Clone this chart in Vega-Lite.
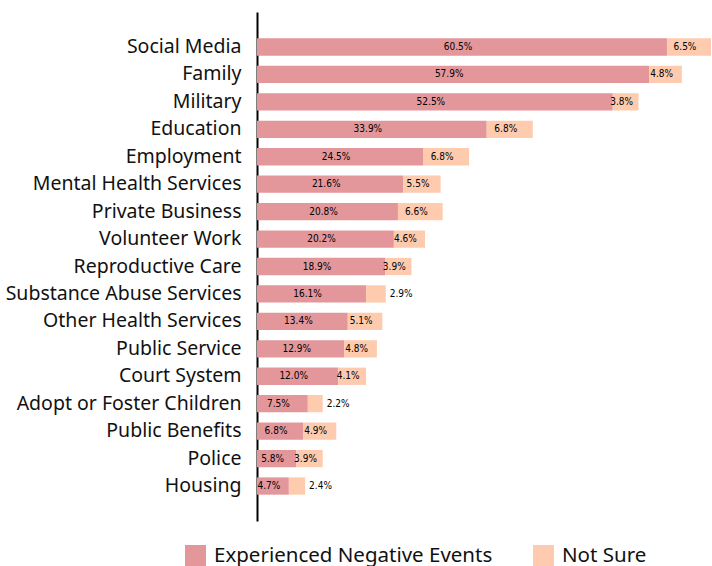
{
  "$schema": "https://vega.github.io/schema/vega-lite/v6.json",
  "autosize": "none",
  "width": 454,
  "height": 509,
  "padding": {"left": 257, "top": 12, "right": 1, "bottom": 45},
  "background": "white",
  "config": {"view": {"stroke": null}, "font": "Noto Sans"},
  "data": {"values": [
    {"category": "Social Media", "type": "Experienced Negative Events", "ord": 1, "value": 0.605},
    {"category": "Social Media", "type": "Not Sure", "ord": 2, "value": 0.065},
    {"category": "Family", "type": "Experienced Negative Events", "ord": 1, "value": 0.579},
    {"category": "Family", "type": "Not Sure", "ord": 2, "value": 0.048},
    {"category": "Military", "type": "Experienced Negative Events", "ord": 1, "value": 0.525},
    {"category": "Military", "type": "Not Sure", "ord": 2, "value": 0.038},
    {"category": "Education", "type": "Experienced Negative Events", "ord": 1, "value": 0.339},
    {"category": "Education", "type": "Not Sure", "ord": 2, "value": 0.068},
    {"category": "Employment", "type": "Experienced Negative Events", "ord": 1, "value": 0.245},
    {"category": "Employment", "type": "Not Sure", "ord": 2, "value": 0.068},
    {"category": "Mental Health Services", "type": "Experienced Negative Events", "ord": 1, "value": 0.216},
    {"category": "Mental Health Services", "type": "Not Sure", "ord": 2, "value": 0.055},
    {"category": "Private Business", "type": "Experienced Negative Events", "ord": 1, "value": 0.208},
    {"category": "Private Business", "type": "Not Sure", "ord": 2, "value": 0.066},
    {"category": "Volunteer Work", "type": "Experienced Negative Events", "ord": 1, "value": 0.202},
    {"category": "Volunteer Work", "type": "Not Sure", "ord": 2, "value": 0.046},
    {"category": "Reproductive Care", "type": "Experienced Negative Events", "ord": 1, "value": 0.189},
    {"category": "Reproductive Care", "type": "Not Sure", "ord": 2, "value": 0.039},
    {"category": "Substance Abuse Services", "type": "Experienced Negative Events", "ord": 1, "value": 0.161},
    {"category": "Substance Abuse Services", "type": "Not Sure", "ord": 2, "value": 0.029},
    {"category": "Other Health Services", "type": "Experienced Negative Events", "ord": 1, "value": 0.134},
    {"category": "Other Health Services", "type": "Not Sure", "ord": 2, "value": 0.051},
    {"category": "Public Service", "type": "Experienced Negative Events", "ord": 1, "value": 0.129},
    {"category": "Public Service", "type": "Not Sure", "ord": 2, "value": 0.048},
    {"category": "Court System", "type": "Experienced Negative Events", "ord": 1, "value": 0.120},
    {"category": "Court System", "type": "Not Sure", "ord": 2, "value": 0.041},
    {"category": "Adopt or Foster Children", "type": "Experienced Negative Events", "ord": 1, "value": 0.075},
    {"category": "Adopt or Foster Children", "type": "Not Sure", "ord": 2, "value": 0.022},
    {"category": "Public Benefits", "type": "Experienced Negative Events", "ord": 1, "value": 0.068},
    {"category": "Public Benefits", "type": "Not Sure", "ord": 2, "value": 0.049},
    {"category": "Police", "type": "Experienced Negative Events", "ord": 1, "value": 0.058},
    {"category": "Police", "type": "Not Sure", "ord": 2, "value": 0.039},
    {"category": "Housing", "type": "Experienced Negative Events", "ord": 1, "value": 0.047},
    {"category": "Housing", "type": "Not Sure", "ord": 2, "value": 0.024}
  ]},
  "transform": [
    {"stack": "value", "groupby": ["category"], "sort": [{"field": "ord"}], "as": ["x0", "x1"]},
    {"calculate": "(datum.x0 + datum.x1) / 2", "as": "xmid"}
  ],
  "encoding": {
    "y": {
      "field": "category", "type": "nominal", "sort": null, "title": null,
      "scale": {"paddingInner": 0.37, "paddingOuter": 0.96},
      "axis": {
        "labelFontSize": 19.5, "labelColor": "#111", "labelPadding": 16, "labelLimit": 300,
        "ticks": false, "domainColor": "#000", "domainWidth": 2, "labelFont": "Noto Sans"
      }
    }
  },
  "layer": [
    {
      "mark": {"type": "bar"},
      "encoding": {
        "x": {"field": "x0", "type": "quantitative", "scale": {"domain": [0, 0.67], "nice": false, "zero": true}, "axis": null},
        "x2": {"field": "x1"},
        "color": {
          "field": "type", "type": "nominal", "sort": ["Experienced Negative Events", "Not Sure"],
          "scale": {"domain": ["Experienced Negative Events", "Not Sure"], "range": ["#E3979B", "#FFCBAF"]},
          "legend": {
            "title": null, "orient": "none", "direction": "horizontal",
            "legendX": -72, "legendY": 533,
            "symbolType": "square", "symbolSize": 441, "symbolStrokeWidth": 0, "symbolOpacity": 1,
            "labelFontSize": 20.5, "labelColor": "#111", "labelOffset": 8, "columnPadding": 40,
            "labelLimit": 400, "labelFont": "Noto Sans"
          }
        }
      }
    },
    {
      "transform": [{"filter": "datum.value >= 0.03"}],
      "mark": {"type": "text", "fontSize": 10, "color": "#000", "align": "center", "baseline": "middle", "dx": -4, "font": "DejaVu Sans Condensed, Roboto, sans-serif"},
      "encoding": {
        "x": {"field": "xmid", "type": "quantitative"},
        "text": {"field": "value", "type": "quantitative", "format": ".1%"}
      }
    },
    {
      "transform": [{"filter": "datum.value < 0.03"}],
      "mark": {"type": "text", "fontSize": 10, "color": "#000", "align": "left", "baseline": "middle", "dx": 4, "font": "DejaVu Sans Condensed, Roboto, sans-serif"},
      "encoding": {
        "x": {"field": "x1", "type": "quantitative"},
        "text": {"field": "value", "type": "quantitative", "format": ".1%"}
      }
    }
  ]
}
